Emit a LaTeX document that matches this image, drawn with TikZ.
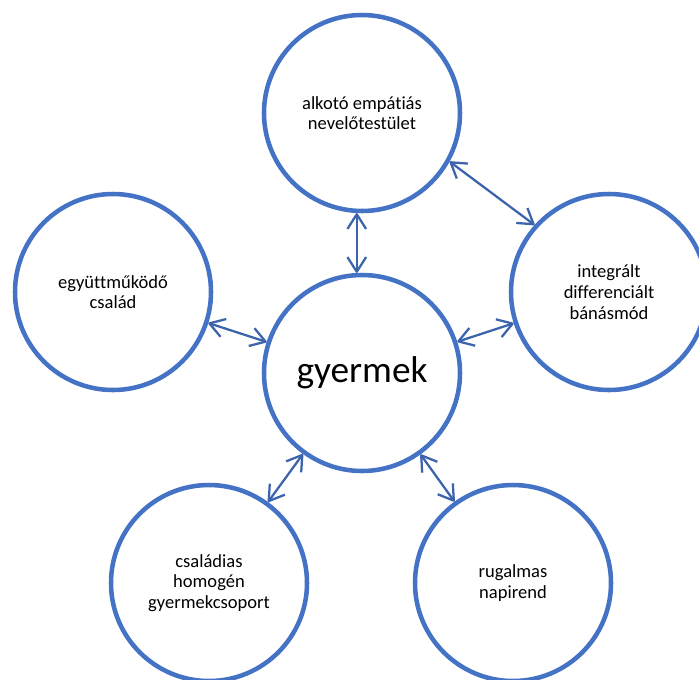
\documentclass[tikz,border=0pt]{standalone}
\usepackage{fontspec}
\setmainfont[RawFeature=-liga]{Carlito}
\usetikzlibrary{arrows.meta}
\definecolor{ringblue}{HTML}{4472C4}
\definecolor{arrowblue}{HTML}{3C64AC}
\begin{document}
\begin{tikzpicture}[x=0.75pt,y=-0.75pt,
  ring/.style={circle,draw=ringblue,line width=3.4pt,minimum size=147pt,inner sep=0pt,align=center,
    font=\fontsize{13.9}{15.5}\selectfont,text=black},
  link/.style={draw=arrowblue,line width=1.7pt,
    {Straight Barb[length=11pt,width=14pt,line join=round]}-{Straight Barb[length=11pt,width=14pt,line join=round]}}]
\useasboundingbox (0,0) rectangle (699,679);
\node[ring,font=\fontsize{28}{32}\selectfont] (c) at (362,373) {gyermek};
\node[ring] (top) at (362,113) {alkotó empátiás\\nevelőtestület};
\node[ring] (L) at (113,292) {együttműködő\\család};
\node[ring] (R) at (609,292) {integrált\\differenciált\\bánásmód};
\node[ring] (BL) at (209,583) {családias\\homogén\\gyermekcsoport};
\node[ring] (BR) at (513,583) {rugalmas\\napirend};
\draw[link] (top.-93.4) -- (c.93.4);
\draw[link] (top.-29.6) -- (R.138);
\draw[link] (L) -- (c);
\draw[link] (c) -- (R);
\draw[link] (BL) -- (c);
\draw[link] (c) -- (BR);
\end{tikzpicture}
\end{document}
